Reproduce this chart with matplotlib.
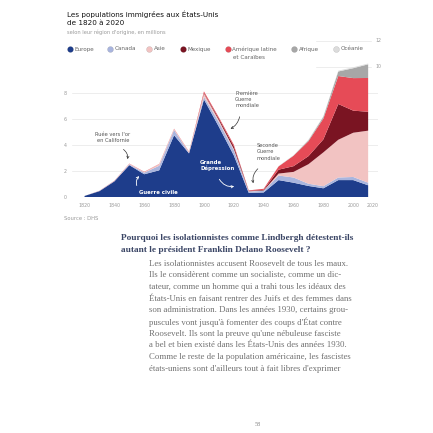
import matplotlib.pyplot as plt

# Immigrants per decade, millions, by region of origin
years = [1820, 1830, 1840, 1850, 1860, 1870, 1880, 1890, 1900, 1910,
         1920, 1930, 1940, 1950, 1960, 1970, 1980, 1990, 2000, 2010]
europe = [0.08, 0.45, 1.2, 2.45, 1.75, 2.05, 4.75, 3.35, 7.5, 5.4,
          3.2, 0.32, 0.35, 1.3, 1.1, 0.85, 0.67, 1.3, 1.3, 0.9]
canada = [0.0, 0.02, 0.03, 0.06, 0.12, 0.35, 0.4, 0.04, 0.2, 0.35,
          0.4, 0.1, 0.12, 0.35, 0.4, 0.17, 0.16, 0.2, 0.24, 0.2]
asie = [0.0, 0.0, 0.0, 0.04, 0.05, 0.12, 0.07, 0.06, 0.25, 0.15,
        0.1, 0.02, 0.03, 0.15, 0.43, 1.5, 2.6, 2.9, 3.4, 4.0]
mexique = [0.0, 0.0, 0.0, 0.0, 0.0, 0.0, 0.0, 0.0, 0.05, 0.12,
           0.2, 0.03, 0.05, 0.3, 0.44, 0.62, 1.0, 2.75, 1.7, 1.45]
amerique_latine = [0.0, 0.01, 0.02, 0.02, 0.02, 0.02, 0.03, 0.03, 0.12, 0.1,
                   0.12, 0.04, 0.08, 0.25, 0.8, 1.15, 1.6, 2.15, 2.5, 2.6]
afrique = [0.0, 0.0, 0.0, 0.0, 0.0, 0.0, 0.0, 0.0, 0.0, 0.0,
           0.0, 0.0, 0.0, 0.01, 0.02, 0.07, 0.14, 0.35, 0.76, 1.05]
oceanie = [0.0, 0.0, 0.0, 0.0, 0.0, 0.0, 0.0, 0.0, 0.0, 0.0,
           0.0, 0.0, 0.0, 0.01, 0.02, 0.04, 0.04, 0.06, 0.07, 0.06]

regions = ["Europe", "Canada", "Asie", "Mexique", "Amérique latine\net Caraïbes", "Afrique", "Océanie"]
series = [europe, canada, asie, mexique, amerique_latine, afrique, oceanie]
colors = ["#1e3d8b", "#a9b5de", "#f2c3c2", "#7a1422", "#e64b57", "#a7a7a7", "#dcdcdc"]

xtick_pos = [1820, 1840, 1860, 1880, 1900, 1920, 1940, 1960, 1980, 2000, 2013]
xtick_labels = ["1820", "1840", "1860", "1880", "1900", "1920", "1940", "1960", "1980", "2000", "2020"]

body = [
    "Les isolationnistes accusent Roosevelt de tous les maux.",
    "Ils le considèrent comme un socialiste, comme un dic-",
    "tateur, comme un homme qui a trahi tous les idéaux des",
    "États-Unis en faisant rentrer des Juifs et des femmes dans",
    "son administration. Dans les années 1930, certains grou-",
    "puscules vont jusqu'à fomenter des coups d'État contre",
    "Roosevelt. Ils sont la preuve qu'une nébuleuse fasciste",
    "a bel et bien existé dans les États-Unis des années 1930.",
    "Comme le reste de la population américaine, les fascistes",
    "états-uniens sont d'ailleurs tout à fait libres d'exprimer",
]

W = 433
fig = plt.figure(figsize=(4.33, 4.33), dpi=100)

# page overlay in pixel coordinates
page = fig.add_axes([0, 0, 1, 1])
page.set_xlim(0, W)
page.set_ylim(W, 0)
page.axis("off")

ax = fig.add_axes([72 / W, 1 - 197 / W, (378 - 72) / W, (197 - 37) / W])
ax.set_facecolor("none")
ax.stackplot(years, *series, colors=colors, linewidth=0, zorder=2)
ax.set_xlim(1811.6, 2016.6)
ax.set_ylim(0, 12.3)
for s in ax.spines.values():
    s.set_visible(False)
for v in [0, 2, 4, 6, 8]:
    ax.axhline(v, color="#e6e6e6", lw=0.5, zorder=0)
for v in [10, 12]:
    ax.plot([1975, 2012], [v, v], color="#e6e6e6", lw=0.5, zorder=0)
    ax.text(2015, v, str(v), fontsize=3.4, color="#9a9a9a", va="center", ha="left")
ax.set_yticks([0, 2, 4, 6, 8])
ax.set_yticklabels(["0", "2", "4", "6", "8"])
ax.set_xticks(xtick_pos)
ax.set_xticklabels(xtick_labels)
ax.tick_params(length=0, labelsize=3.4, labelcolor="#9a9a9a", pad=4)

# annotations
small = dict(fontsize=3.7, color="#555555", linespacing=1.3)
arrow_dark = dict(arrowstyle="->", color="#333333", lw=0.5, mutation_scale=4)
arrow_white = dict(arrowstyle="->", color="white", lw=0.6, mutation_scale=4)
ax.text(1839.1, 4.58, "Ruée vers l'or\nen Californie", ha="center", va="center", **small)
ax.annotate("", xy=(1848.5, 2.7), xytext=(1844.5, 3.77),
            arrowprops=dict(connectionstyle="arc3,rad=-0.4", **arrow_dark))
ax.text(1856.8, 0.33, "Guerre civile", ha="left", va="center", fontsize=3.9,
        color="white", fontweight="bold", zorder=5)
ax.annotate("", xy=(1858.0, 1.75), xytext=(1855.6, 0.68),
            arrowprops=dict(connectionstyle="arc3,rad=-0.4", **arrow_white), zorder=5)
ax.text(1897.4, 2.42, "Grande\nDépression", ha="left", va="center", fontsize=3.9,
        color="white", fontweight="bold", linespacing=1.3, zorder=5)
ax.annotate("", xy=(1922.1, 0.85), xytext=(1909.4, 1.55),
            arrowprops=dict(connectionstyle="arc3,rad=0.4", **arrow_white), zorder=5)
ax.text(1920.8, 7.5, "Première\nGuerre\nmondiale", ha="left", va="center", **small)
ax.annotate("", xy=(1916.1, 5.15), xytext=(1924.2, 6.38),
            arrowprops=dict(connectionstyle="arc3,rad=-0.3", **arrow_dark))
ax.text(1935.5, 3.46, "Seconde\nGuerre\nmondiale", ha="left", va="center", **small)
ax.annotate("", xy=(1933.5, 0.85), xytext=(1937.5, 2.31),
            arrowprops=dict(connectionstyle="arc3,rad=0.35", **arrow_dark))

# title block
page.text(67, 14.5, "Les populations immigrées aux États-Unis", fontsize=5.2, color="#111111", va="center")
page.text(67, 22.7, "de 1820 à 2020", fontsize=5.2, color="#111111", va="center")
page.text(67, 32.3, "selon leur région d'origine, en millions", fontsize=3.7, color="#9a9a9a", va="center")

# legend
leg_x = [70, 110, 149, 183, 228, 294, 336]
for x, name, c in zip(leg_x, regions, colors):
    page.scatter([x], [49], s=18, color=c, edgecolor="#00000033", linewidth=0.3, zorder=5)
    page.text(x + 4.5, 49, name.split("\n")[0], fontsize=4.1, color="#666666", va="center", ha="left")
    if "\n" in name:
        page.text(x + 5, 57.5, name.split("\n")[1], fontsize=4.1, color="#666666", va="center", ha="left")

page.text(64, 219, "Source : DHS", fontsize=3.8, color="#9a9a9a", va="center")

# book text
serif = ["Liberation Serif", "DejaVu Serif"]
page.text(121, 238, "Pourquoi les isolationnistes comme Lindbergh détestent-ils",
          fontsize=6.7, family=serif, color="#3a4565", fontweight="bold", va="center")
page.text(121, 249.5, "autant le président Franklin Delano Roosevelt ?",
          fontsize=6.7, family=serif, color="#3a4565", fontweight="bold", va="center")
for i, line in enumerate(body):
    page.text(149, 263.5 + i * 11.7, line, fontsize=6.35, family=serif, color="#707070", va="center")
page.text(258, 425, "58", fontsize=4.5, family=serif, color="#888888", ha="center", va="center")

fig.savefig("out.png", dpi=100)
